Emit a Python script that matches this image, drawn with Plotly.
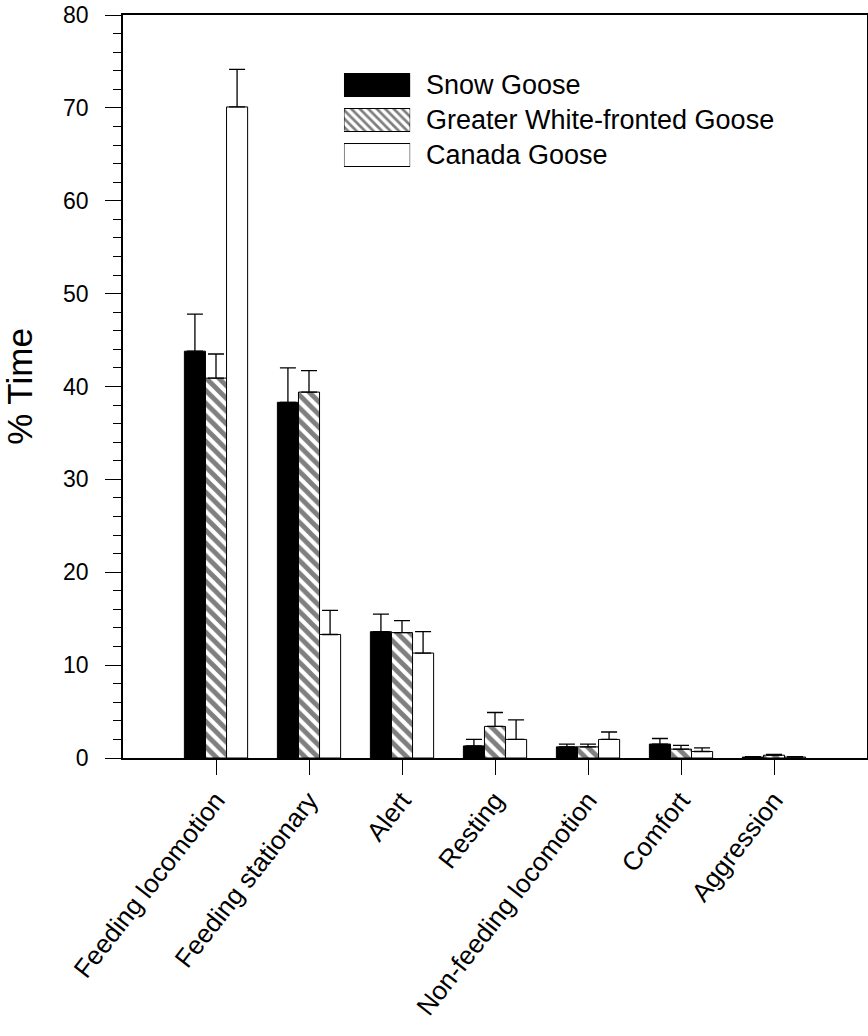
import plotly.graph_objects as go

categories = ["Feeding locomotion", "Feeding stationary", "Alert", "Resting",
              "Non-feeding locomotion", "Comfort", "Aggression"]
series_names = ["Snow Goose", "Greater White-fronted Goose", "Canada Goose"]

snow = [43.8, 38.3, 13.6, 1.3, 1.2, 1.5, 0.1]
snow_err = [4.0, 3.7, 1.9, 0.7, 0.3, 0.6, 0.05]
gwf = [40.9, 39.4, 13.5, 3.4, 1.2, 0.95, 0.3]
gwf_err = [2.6, 2.3, 1.3, 1.5, 0.3, 0.4, 0.1]
canada = [70.1, 13.3, 11.3, 2.0, 2.0, 0.7, 0.1]
canada_err = [4.05, 2.6, 2.3, 2.1, 0.8, 0.4, 0.05]

y_ticks = [0, 10, 20, 30, 40, 50, 60, 70, 80]

FONT = "Liberation Sans, Arial, Helvetica, sans-serif"

styles = [
    dict(color="black", pattern=None),
    dict(color="white", pattern=dict(shape="\\", fgcolor="black", bgcolor="white", size=9, solidity=0.55)),
    dict(color="white", pattern=None),
]

fig = go.Figure()
for name, vals, errs, st in zip(series_names, [snow, gwf, canada],
                                [snow_err, gwf_err, canada_err], styles):
    marker = dict(color=st["color"], line=dict(color="black", width=1))
    if st["pattern"]:
        marker["pattern"] = st["pattern"]
    fig.add_trace(go.Bar(
        x=categories, y=vals, name=name, marker=marker, showlegend=False,
        error_y=dict(type="data", symmetric=False, array=errs,
                     arrayminus=[0] * len(errs), color="black",
                     thickness=1.3, width=8),
    ))

# legend swatches drawn on an overlay axis
leg_styles = [
    dict(color="black", line=dict(color="black", width=1)),
    dict(color="white", line=dict(color="black", width=1),
         pattern=dict(shape="\\", fgcolor="black", bgcolor="white", size=6, solidity=0.45)),
    dict(color="white", line=dict(color="black", width=1)),
]
for i, (name, ms) in enumerate(zip(series_names, leg_styles)):
    fig.add_trace(go.Bar(
        x=[1], y=[i], base=0, orientation="h", width=0.657, marker=ms,
        xaxis="x2", yaxis="y2", showlegend=False, hoverinfo="skip",
    ))
    fig.add_annotation(
        x=1.0, y=i, xref="x2", yref="y2", text=name, showarrow=False,
        xanchor="left", yanchor="middle", xshift=14,
        font=dict(family=FONT, size=27, color="black"),
    )

fig.update_layout(
    width=868, height=1036,
    margin=dict(l=123, r=1, t=15, b=278),
    paper_bgcolor="white", plot_bgcolor="white",
    barmode="group", bargap=0.32, bargroupgap=0,
    font=dict(family=FONT, color="black"),
    xaxis=dict(
        type="category", range=[-1, 7], automargin=False,
        showline=True, linecolor="black", linewidth=1.5, mirror=True,
        ticks="outside", ticklen=15, tickwidth=1.3, tickcolor="black",
        tickangle=-52, tickfont=dict(family=FONT, size=26, color="black"),
        ticklabeloverflow="allow",
        showgrid=False, zeroline=False,
    ),
    yaxis=dict(
        range=[0, 80], tickvals=y_ticks, ticktext=[str(v) for v in y_ticks],
        automargin=False,
        showline=True, linecolor="black", linewidth=1.5, mirror=True,
        ticks="outside", ticklen=16, tickwidth=1.3, tickcolor="black",
        minor=dict(dtick=2, ticks="outside", ticklen=8, tickwidth=1.2, tickcolor="black", showgrid=False),
        tickfont=dict(family=FONT, size=23, color="black"),
        ticklabelstandoff=12, ticklabeloverflow="allow",
        title=dict(text="% Time", font=dict(family=FONT, size=35, color="black"), standoff=26),
        showgrid=False, zeroline=False,
    ),
    xaxis2=dict(domain=[0.297, 0.386], range=[0, 1], anchor="y2", visible=False, fixedrange=True),
    yaxis2=dict(domain=[0.788, 0.9293], range=[2.5, -0.5], anchor="x2", visible=False, fixedrange=True),
)

# remove the browser's default 8px body margin so the figure fills the window exactly
fig.write_html("out.html", config={"displayModeBar": False},
               post_script="document.body.style.margin='0px';")
